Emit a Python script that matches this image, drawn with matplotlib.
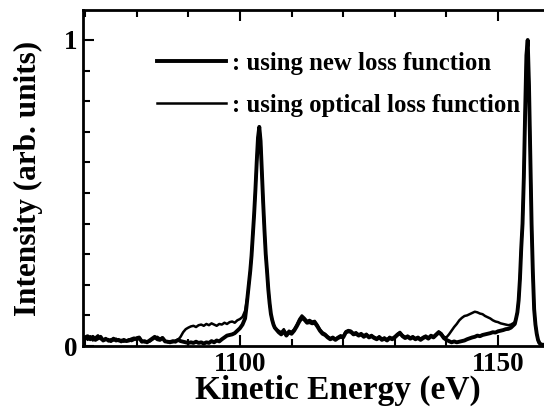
import numpy as np
import matplotlib
matplotlib.use("Agg")
import matplotlib.pyplot as plt
from matplotlib.ticker import MultipleLocator

# Kinetic energy sampling grid (eV): coarse in the background, finer across the two peaks
energy = np.concatenate([
    np.arange(1069.5, 1100.51, 0.5),
    np.arange(1101.0, 1107.01, 0.25),
    np.arange(1107.5, 1153.01, 0.5),
    np.arange(1153.25, 1159.01, 0.25),
])

# Calculated spectrum using the new loss function
new_bg_low = [0.02, 0.028, 0.032, 0.022, 0.03, 0.02, 0.025, 0.03,
              0.018, 0.022, 0.02, 0.016, 0.024, 0.018, 0.02, 0.015, 0.02, 0.016, 0.018, 0.022, 0.025,
              0.022, 0.026, 0.014, 0.016, 0.012, 0.018, 0.024, 0.03, 0.022, 0.02, 0.026, 0.015, 0.014,
              0.012, 0.016, 0.014, 0.02, 0.016,
              0.014, 0.012, 0.01,
              0.012, 0.01, 0.014, 0.01, 0.012, 0.008, 0.012, 0.01, 0.016, 0.012, 0.018, 0.015, 0.022,
              0.028, 0.034, 0.036, 0.038, 0.042, 0.05, 0.058, 0.07]
new_peak1 = [0.09, 0.125, 0.165, 0.205, 0.245, 0.295, 0.36, 0.43, 0.51, 0.6, 0.68, 0.716, 0.67,
             0.57, 0.47, 0.38, 0.3, 0.245, 0.185, 0.14, 0.105, 0.085, 0.07, 0.06, 0.055]
new_mid = [0.045, 0.038, 0.048, 0.034, 0.045, 0.04, 0.05, 0.064, 0.08, 0.092, 0.086, 0.076, 0.078,
           0.074, 0.076, 0.064, 0.05, 0.04, 0.036, 0.028, 0.022, 0.026, 0.02, 0.026, 0.03, 0.028,
           0.044, 0.048, 0.046, 0.038, 0.04, 0.034, 0.038, 0.03, 0.036, 0.028, 0.032, 0.026, 0.022,
           0.028, 0.02, 0.024, 0.018, 0.026, 0.022, 0.028, 0.036, 0.042, 0.032, 0.026, 0.03, 0.024,
           0.028, 0.022, 0.026, 0.02, 0.026, 0.03, 0.024, 0.032, 0.028, 0.036, 0.044, 0.038, 0.026,
           0.02, 0.016, 0.012, 0.015, 0.012, 0.014, 0.016, 0.018, 0.022, 0.025, 0.028, 0.03, 0.034,
           0.032, 0.036, 0.038, 0.04, 0.042, 0.045, 0.044, 0.048, 0.05, 0.052, 0.055, 0.056, 0.06,
           0.068]
new_peak2 = [0.072, 0.09, 0.11, 0.15, 0.22, 0.32, 0.4, 0.55, 0.76, 0.95, 1.0, 0.85, 0.62, 0.4,
             0.24, 0.12, 0.07, 0.04, 0.02, 0.01, 0.006, 0.004, 0.004, 0.004]

# Calculated spectrum using the optical loss function
opt_bg_low = [0.025, 0.03, 0.02, 0.032, 0.018, 0.028, 0.035, 0.022,
              0.02, 0.026, 0.015, 0.022, 0.018, 0.024, 0.016, 0.02, 0.014, 0.018, 0.022, 0.016, 0.02,
              0.028, 0.03, 0.018, 0.012, 0.016, 0.014, 0.02, 0.026, 0.03, 0.024, 0.028, 0.018, 0.012,
              0.016, 0.012, 0.018, 0.02, 0.03,
              0.045, 0.055, 0.06,
              0.064, 0.066, 0.062, 0.068, 0.07, 0.066, 0.072, 0.068, 0.074, 0.07, 0.066, 0.072, 0.07,
              0.076, 0.072, 0.078, 0.08, 0.076, 0.084, 0.088, 0.095]
opt_peak1 = [0.115, 0.14, 0.165, 0.205, 0.245, 0.295, 0.36, 0.43, 0.51, 0.6, 0.68, 0.716, 0.67,
             0.57, 0.47, 0.38, 0.3, 0.245, 0.185, 0.14, 0.105, 0.085, 0.07, 0.06, 0.055]
opt_mid = [0.05, 0.045, 0.055, 0.04, 0.05, 0.046, 0.055, 0.07, 0.088, 0.1, 0.092, 0.082, 0.085,
           0.08, 0.082, 0.07, 0.055, 0.045, 0.04, 0.032, 0.026, 0.03, 0.024, 0.03, 0.035, 0.032,
           0.048, 0.052, 0.05, 0.042, 0.045, 0.038, 0.042, 0.035, 0.04, 0.032, 0.036, 0.03, 0.026,
           0.032, 0.024, 0.028, 0.022, 0.03, 0.026, 0.032, 0.04, 0.046, 0.036, 0.03, 0.034, 0.028,
           0.032, 0.026, 0.03, 0.024, 0.03, 0.034, 0.028, 0.036, 0.032, 0.04, 0.048, 0.042, 0.03,
           0.028, 0.038, 0.05, 0.062, 0.072, 0.084, 0.092, 0.098, 0.1, 0.104, 0.108, 0.112, 0.11,
           0.106, 0.104, 0.098, 0.094, 0.09, 0.084, 0.08, 0.078, 0.074, 0.072, 0.07, 0.068, 0.07,
           0.075]
opt_peak2 = [0.078, 0.09, 0.11, 0.15, 0.22, 0.32, 0.4, 0.55, 0.76, 0.95, 1.0, 0.85, 0.62, 0.4,
             0.24, 0.12, 0.07, 0.04, 0.02, 0.01, 0.006, 0.004, 0.004, 0.004]

intensity_new = np.array(new_bg_low + new_peak1 + new_mid + new_peak2)
intensity_opt = np.array(opt_bg_low + opt_peak1 + opt_mid + opt_peak2)
assert len(intensity_new) == len(energy) == len(intensity_opt)

x_ticks = [1100, 1150]
y_ticks = [0, 1]
labels = [": using new loss function", ": using optical loss function"]

plt.rcParams["font.family"] = ["Liberation Serif", "DejaVu Serif"]
plt.rcParams["font.weight"] = "bold"

fig = plt.figure(figsize=(5.44, 4.19), dpi=100)
W, H = 544, 419
# the frame runs on past the right edge of the figure (up to ~1168 eV)
x0, x1, y_top, y_bot = 83, 593, 10, 346
ax = fig.add_axes([x0 / W, (H - y_bot) / H, (x1 - x0) / W, (y_bot - y_top) / H])

ax.plot(energy, intensity_new, color="black", lw=2.8, label=labels[0], solid_joinstyle="round")
ax.plot(energy, intensity_opt, color="black", lw=1.8, label=labels[1], solid_joinstyle="round")

ax.set_xlim(1069.6, 1168.4)
ax.set_ylim(0, 1.098)
ax.set_xticks(x_ticks)
ax.set_yticks(y_ticks)
ax.xaxis.set_minor_locator(MultipleLocator(10))
ax.yaxis.set_minor_locator(MultipleLocator(0.1))
ax.tick_params(which="both", direction="in", top=True, right=False, width=1.5,
               labelsize=19.5, pad=4)
ax.tick_params(axis="y", pad=4)
ax.tick_params(which="major", length=8)
ax.tick_params(which="minor", length=5)
for lab in ax.get_xticklabels() + ax.get_yticklabels():
    lab.set_fontweight("bold")

for side in ("left", "bottom", "top"):
    ax.spines[side].set_linewidth(2.0)
ax.spines["right"].set_visible(False)

ax.set_xlabel("Kinetic Energy (eV)", fontsize=24, fontweight="bold", labelpad=-1)
ax.set_ylabel("Intensity (arb. units)", fontsize=22.5, fontweight="bold", labelpad=15)

leg = ax.legend(loc="upper left", bbox_to_anchor=(74 / (x1 - x0), 0.875), frameon=False,
                borderpad=0, borderaxespad=0,
                handlelength=2.8, handletextpad=0.25, labelspacing=0.75,
                prop={"family": "Liberation Serif", "weight": "bold", "size": 17.8})

fig.savefig("out.png", dpi=100)
